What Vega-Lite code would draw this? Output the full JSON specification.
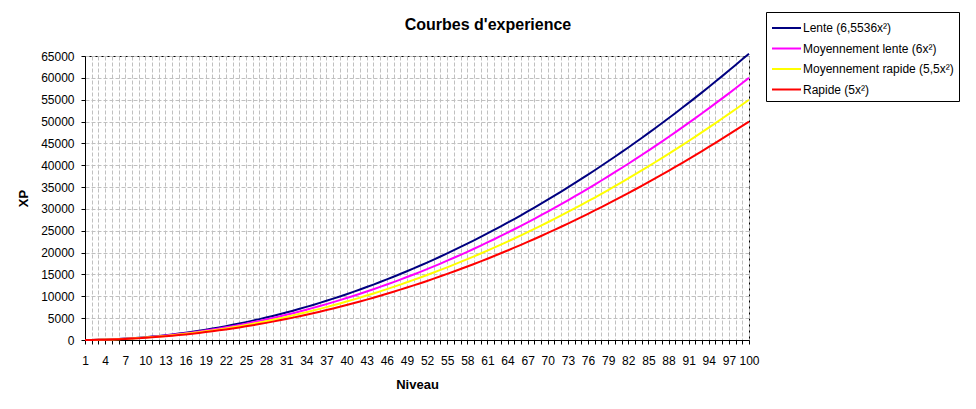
{
  "$schema": "https://vega.github.io/schema/vega-lite/v6.json",
  "autosize": {"type": "none"},
  "width": 664,
  "height": 284,
  "padding": {"left": 85, "top": 56, "right": 227, "bottom": 69},
  "background": "white",
  "title": {"text": "Courbes d'experience", "anchor": "middle", "dx": 71, "offset": -34, "baseline": "alphabetic", "font": "Liberation Sans", "fontSize": 16, "fontWeight": "bold", "color": "black"},
  "config": {
    "view": {"stroke": "black", "strokeWidth": 1},
    "axis": {"labelFont": "Liberation Sans", "labelFontSize": 12, "labelColor": "black", "titleFont": "Liberation Sans", "titleFontSize": 13, "titleFontWeight": "bold", "titleColor": "black", "domainColor": "black", "tickColor": "black", "tickSize": 4, "gridColor": "#c0c0c0", "gridDash": [4, 2], "gridWidth": 1}
  },
  "data": {"values": [
    {"n":1,"a":6.55,"b":6,"c":5.5,"d":5},
    {"n":2,"a":26,"b":24,"c":22,"d":20},
    {"n":3,"a":59,"b":54,"c":49.5,"d":45},
    {"n":4,"a":105,"b":96,"c":88,"d":80},
    {"n":5,"a":164,"b":150,"c":137.5,"d":125},
    {"n":6,"a":236,"b":216,"c":198,"d":180},
    {"n":7,"a":321,"b":294,"c":269.5,"d":245},
    {"n":8,"a":419,"b":384,"c":352,"d":320},
    {"n":9,"a":531,"b":486,"c":445.5,"d":405},
    {"n":10,"a":655,"b":600,"c":550,"d":500},
    {"n":11,"a":793,"b":726,"c":665.5,"d":605},
    {"n":12,"a":944,"b":864,"c":792,"d":720},
    {"n":13,"a":1108,"b":1014,"c":929.5,"d":845},
    {"n":14,"a":1285,"b":1176,"c":1078,"d":980},
    {"n":15,"a":1475,"b":1350,"c":1237.5,"d":1125},
    {"n":16,"a":1678,"b":1536,"c":1408,"d":1280},
    {"n":17,"a":1894,"b":1734,"c":1589.5,"d":1445},
    {"n":18,"a":2123,"b":1944,"c":1782,"d":1620},
    {"n":19,"a":2366,"b":2166,"c":1985.5,"d":1805},
    {"n":20,"a":2621,"b":2400,"c":2200,"d":2000},
    {"n":21,"a":2890,"b":2646,"c":2425.5,"d":2205},
    {"n":22,"a":3172,"b":2904,"c":2662,"d":2420},
    {"n":23,"a":3467,"b":3174,"c":2909.5,"d":2645},
    {"n":24,"a":3775,"b":3456,"c":3168,"d":2880},
    {"n":25,"a":4096,"b":3750,"c":3437.5,"d":3125},
    {"n":26,"a":4430,"b":4056,"c":3718,"d":3380},
    {"n":27,"a":4778,"b":4374,"c":4009.5,"d":3645},
    {"n":28,"a":5138,"b":4704,"c":4312,"d":3920},
    {"n":29,"a":5512,"b":5046,"c":4625.5,"d":4205},
    {"n":30,"a":5898,"b":5400,"c":4950,"d":4500},
    {"n":31,"a":6298,"b":5766,"c":5285.5,"d":4805},
    {"n":32,"a":6711,"b":6144,"c":5632,"d":5120},
    {"n":33,"a":7137,"b":6534,"c":5989.5,"d":5445},
    {"n":34,"a":7576,"b":6936,"c":6358,"d":5780},
    {"n":35,"a":8028,"b":7350,"c":6737.5,"d":6125},
    {"n":36,"a":8493,"b":7776,"c":7128,"d":6480},
    {"n":37,"a":8972,"b":8214,"c":7529.5,"d":6845},
    {"n":38,"a":9463,"b":8664,"c":7942,"d":7220},
    {"n":39,"a":9968,"b":9126,"c":8365.5,"d":7605},
    {"n":40,"a":10486,"b":9600,"c":8800,"d":8000},
    {"n":41,"a":11017,"b":10086,"c":9245.5,"d":8405},
    {"n":42,"a":11561,"b":10584,"c":9702,"d":8820},
    {"n":43,"a":12118,"b":11094,"c":10169.5,"d":9245},
    {"n":44,"a":12688,"b":11616,"c":10648,"d":9680},
    {"n":45,"a":13271,"b":12150,"c":11137.5,"d":10125},
    {"n":46,"a":13867,"b":12696,"c":11638,"d":10580},
    {"n":47,"a":14477,"b":13254,"c":12149.5,"d":11045},
    {"n":48,"a":15099,"b":13824,"c":12672,"d":11520},
    {"n":49,"a":15735,"b":14406,"c":13205.5,"d":12005},
    {"n":50,"a":16384,"b":15000,"c":13750,"d":12500},
    {"n":51,"a":17046,"b":15606,"c":14305.5,"d":13005},
    {"n":52,"a":17721,"b":16224,"c":14872,"d":13520},
    {"n":53,"a":18409,"b":16854,"c":15449.5,"d":14045},
    {"n":54,"a":19110,"b":17496,"c":16038,"d":14580},
    {"n":55,"a":19825,"b":18150,"c":16637.5,"d":15125},
    {"n":56,"a":20552,"b":18816,"c":17248,"d":15680},
    {"n":57,"a":21293,"b":19494,"c":17869.5,"d":16245},
    {"n":58,"a":22046,"b":20184,"c":18502,"d":16820},
    {"n":59,"a":22813,"b":20886,"c":19145.5,"d":17405},
    {"n":60,"a":23593,"b":21600,"c":19800,"d":18000},
    {"n":61,"a":24386,"b":22326,"c":20465.5,"d":18605},
    {"n":62,"a":25192,"b":23064,"c":21142,"d":19220},
    {"n":63,"a":26011,"b":23814,"c":21829.5,"d":19845},
    {"n":64,"a":26844,"b":24576,"c":22528,"d":20480},
    {"n":65,"a":27689,"b":25350,"c":23237.5,"d":21125},
    {"n":66,"a":28547,"b":26136,"c":23958,"d":21780},
    {"n":67,"a":29419,"b":26934,"c":24689.5,"d":22445},
    {"n":68,"a":30304,"b":27744,"c":25432,"d":23120},
    {"n":69,"a":31202,"b":28566,"c":26185.5,"d":23805},
    {"n":70,"a":32113,"b":29400,"c":26950,"d":24500},
    {"n":71,"a":33037,"b":30246,"c":27725.5,"d":25205},
    {"n":72,"a":33974,"b":31104,"c":28512,"d":25920},
    {"n":73,"a":34924,"b":31974,"c":29309.5,"d":26645},
    {"n":74,"a":35888,"b":32856,"c":30118,"d":27380},
    {"n":75,"a":36864,"b":33750,"c":30937.5,"d":28125},
    {"n":76,"a":37854,"b":34656,"c":31768,"d":28880},
    {"n":77,"a":38856,"b":35574,"c":32609.5,"d":29645},
    {"n":78,"a":39872,"b":36504,"c":33462,"d":30420},
    {"n":79,"a":40901,"b":37446,"c":34325.5,"d":31205},
    {"n":80,"a":41943,"b":38400,"c":35200,"d":32000},
    {"n":81,"a":42998,"b":39366,"c":36085.5,"d":32805},
    {"n":82,"a":44066,"b":40344,"c":36982,"d":33620},
    {"n":83,"a":45148,"b":41334,"c":37889.5,"d":34445},
    {"n":84,"a":46242,"b":42336,"c":38808,"d":35280},
    {"n":85,"a":47350,"b":43350,"c":39737.5,"d":36125},
    {"n":86,"a":48470,"b":44376,"c":40678,"d":36980},
    {"n":87,"a":49604,"b":45414,"c":41629.5,"d":37845},
    {"n":88,"a":50751,"b":46464,"c":42592,"d":38720},
    {"n":89,"a":51911,"b":47526,"c":43565.5,"d":39605},
    {"n":90,"a":53084,"b":48600,"c":44550,"d":40500},
    {"n":91,"a":54270,"b":49686,"c":45545.5,"d":41405},
    {"n":92,"a":55470,"b":50784,"c":46552,"d":42320},
    {"n":93,"a":56682,"b":51894,"c":47569.5,"d":43245},
    {"n":94,"a":57908,"b":53016,"c":48598,"d":44180},
    {"n":95,"a":59146,"b":54150,"c":49637.5,"d":45125},
    {"n":96,"a":60398,"b":55296,"c":50688,"d":46080},
    {"n":97,"a":61663,"b":56454,"c":51749.5,"d":47045},
    {"n":98,"a":62941,"b":57624,"c":52822,"d":48020},
    {"n":99,"a":64232,"b":58806,"c":53905.5,"d":49005},
    {"n":100,"a":65536,"b":60000,"c":55000,"d":50000}
  ]},
  "transform": [{"fold": ["a", "b", "c", "d"], "as": ["serie", "xp"]}],
  "mark": {"type": "line", "strokeWidth": 2, "clip": false},
  "encoding": {
    "x": {"field": "n", "type": "quantitative",
      "scale": {"domain": [1, 100], "nice": false, "zero": false},
      "axis": {"title": "Niveau", "titlePadding": 12,
        "values": [1,2,3,4,5,6,7,8,9,10,11,12,13,14,15,16,17,18,19,20,21,22,23,24,25,26,27,28,29,30,31,32,33,34,35,36,37,38,39,40,41,42,43,44,45,46,47,48,49,50,51,52,53,54,55,56,57,58,59,60,61,62,63,64,65,66,67,68,69,70,71,72,73,74,75,76,77,78,79,80,81,82,83,84,85,86,87,88,89,90,91,92,93,94,95,96,97,98,99,100],
        "labelExpr": "(datum.value - 1) % 3 == 0 ? datum.label : ''",
        "labelOverlap": false, "labelFlush": false, "labelPadding": 11, "labelBound": false}},
    "y": {"field": "xp", "type": "quantitative",
      "scale": {"domain": [0, 65000], "nice": false},
      "axis": {"title": "XP", "titlePadding": 10, "format": "d", "labelPadding": 7,
        "values": [0,5000,10000,15000,20000,25000,30000,35000,40000,45000,50000,55000,60000,65000]}},
    "color": {"field": "serie", "type": "nominal",
      "scale": {"domain": ["a", "b", "c", "d"], "range": ["#000080", "#FF00FF", "#FFFF00", "#FF0000"]},
      "legend": {"title": null, "orient": "none", "legendX": 681, "legendY": -44,
        "strokeColor": "black", "fillColor": "white", "padding": 5, "rowPadding": 3.5,
        "symbolType": "M-1,0H1.9", "symbolStrokeWidth": 2, "symbolSize": 400, "labelOffset": 10,
        "labelFont": "Liberation Sans", "labelFontSize": 12, "labelColor": "black", "labelLimit": 300,
        "labelExpr": "datum.label == 'a' ? 'Lente (6,5536x²)' : datum.label == 'b' ? 'Moyennement lente (6x²)' : datum.label == 'c' ? 'Moyennement rapide (5,5x²)' : 'Rapide (5x²)'"}}
  }
}
